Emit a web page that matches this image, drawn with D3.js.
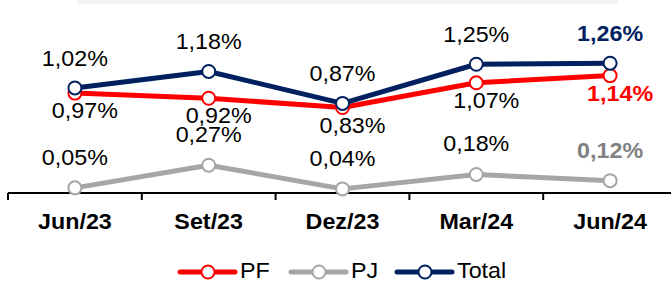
<!DOCTYPE html>
<meta charset="utf-8">
<style>
body { margin: 0; background: #fff; }
text { font-family: "Liberation Sans", Arial, sans-serif; font-size: 22px; }
</style>
<body>
<script src="https://cdn.jsdelivr.net/npm/d3@7"></script>
<script>

var categories = ["Jun/23", "Set/23", "Dez/23", "Mar/24", "Jun/24"];
var pf = [0.97, 0.92, 0.83, 1.07, 1.14];
var pj = [0.05, 0.27, 0.04, 0.18, 0.12];
var total = [1.02, 1.18, 0.87, 1.25, 1.26];

var width = 671, height = 282;

var svg = d3.select("body").append("svg")
    .attr("width", width)
    .attr("height", height);

// faint band at the very top
svg.append("rect")
    .attr("x", 77).attr("y", 0)
    .attr("width", 541).attr("height", 4)
    .style("fill", "#f2f2f2");

var x = d3.scaleBand()
    .domain(categories)
    .range([8, 677]);

var y = d3.scaleLinear()
    .domain([0, 1.5])
    .range([193, 38.5]);

var locale = d3.formatLocale({decimal: ",", thousands: ".", grouping: [3], currency: ["R$", ""]});
var pct = function(v) { return locale.format(".2f")(v) + "%"; };

var stretch = 1.06;
function putText(sel, px, py) {
  sel.attr("transform", function(d, i) {
    return "translate(" + px(d, i) + "," + py(d, i) + ") scale(" + stretch + ",1)";
  });
}

// axis
svg.append("line")
    .attr("x1", 8).attr("x2", width)
    .attr("y1", 193).attr("y2", 193)
    .style("stroke", "#000").style("stroke-width", 2);

svg.selectAll(".tick")
    .data(categories)
  .enter().append("line")
    .attr("class", "tick")
    .attr("x1", function(d) { return x(d); })
    .attr("x2", function(d) { return x(d); })
    .attr("y1", 193).attr("y2", 200)
    .style("stroke", "#000").style("stroke-width", 2);

svg.selectAll(".xlabel")
    .data(categories)
  .enter().append("text")
    .attr("class", "xlabel")
    .attr("text-anchor", "middle")
    .style("font-weight", "bold")
    .text(function(d) { return d; })
    .call(putText, function(d) { return x(d) + x.bandwidth() / 2; }, function() { return 229; });

var series = [
  {name: "PJ", values: pj, color: "#a6a6a6", lastColor: "#808080", dy: -23, dx: 0},
  {name: "PF", values: pf, color: "#ff0000", lastColor: "#ff0000", dy: 25, dx: 10},
  {name: "Total", values: total, color: "#002060", lastColor: "#002060", dy: -22, dx: 0}
];

var line = d3.line()
    .x(function(d, i) { return x(categories[i]) + x.bandwidth() / 2; })
    .y(function(d) { return y(d); });

series.forEach(function(s) {
  var g = svg.append("g");
  g.append("path")
      .datum(s.values)
      .attr("d", line)
      .style("fill", "none")
      .style("stroke", s.color)
      .style("stroke-width", 5)
      .style("stroke-linejoin", "round");
  g.selectAll("circle")
      .data(s.values)
    .enter().append("circle")
      .attr("cx", function(d, i) { return x(categories[i]) + x.bandwidth() / 2; })
      .attr("cy", function(d) { return y(d); })
      .attr("r", 6.5)
      .style("fill", "#fff")
      .style("stroke", s.color)
      .style("stroke-width", 2);
});

// data labels drawn after all lines
series.forEach(function(s) {
  var last = s.values.length - 1;
  svg.append("g").selectAll("text")
      .data(s.values)
    .enter().append("text")
      .attr("text-anchor", "middle")
      .style("fill", function(d, i) { return i === last ? s.lastColor : "#000"; })
      .style("font-weight", function(d, i) { return i === last ? "bold" : "normal"; })
      .text(pct)
      .call(putText,
        function(d, i) { return x(categories[i]) + x.bandwidth() / 2 + s.dx; },
        function(d) { return y(d) + s.dy; });
});

// legend
var legendOrder = [series[1], series[0], series[2]];
var legendX = [180, 291, 397];
var legend = svg.selectAll(".legend")
    .data(legendOrder)
  .enter().append("g")
    .attr("class", "legend")
    .attr("transform", function(d, i) { return "translate(" + legendX[i] + ",272)"; });

legend.append("line")
    .attr("x1", 0).attr("x2", 55)
    .style("stroke", function(d) { return d.color; })
    .style("stroke-width", 5)
    .style("stroke-linecap", "round");

legend.append("circle")
    .attr("cx", 28).attr("r", 6.5)
    .style("fill", "#fff")
    .style("stroke", function(d) { return d.color; })
    .style("stroke-width", 2);

legend.append("text")
    .text(function(d) { return d.name; })
    .call(putText, function() { return 60; }, function() { return 6; });

</script>
